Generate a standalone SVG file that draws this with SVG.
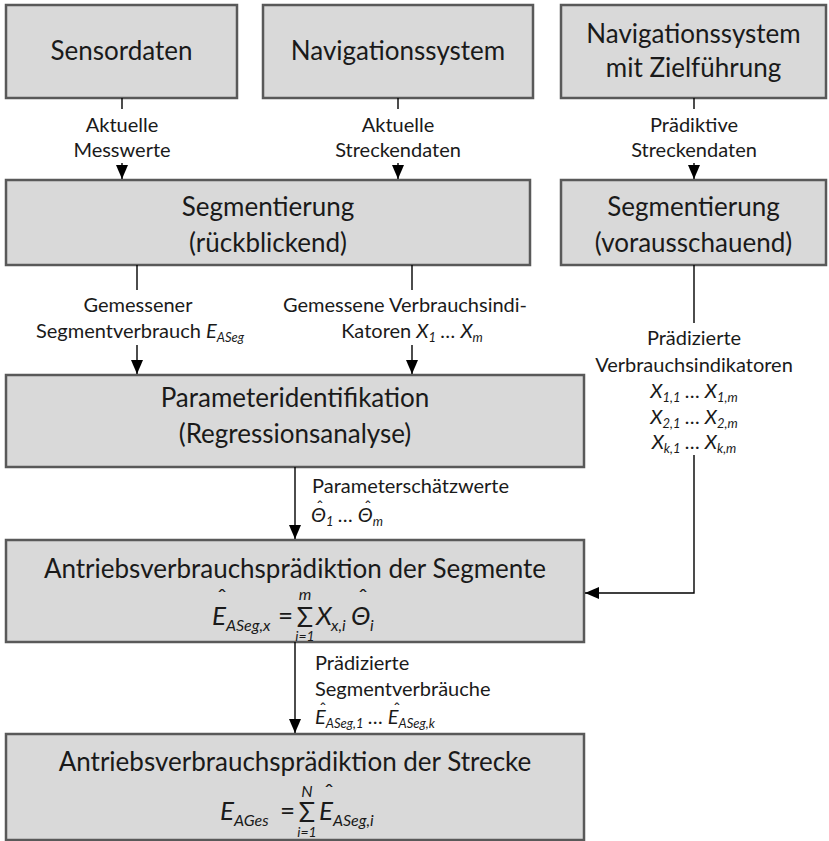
<svg xmlns="http://www.w3.org/2000/svg" width="829" height="841" viewBox="0 0 829 841">
  <defs>
    <marker id="arrow" markerUnits="userSpaceOnUse" markerWidth="14" markerHeight="12" refX="14" refY="6" orient="auto">
      <path d="M0,0 L14,6 L0,12 z" fill="#000"/>
    </marker>
    <style>
      .box { fill: #d9d9d9; stroke: #595959; stroke-width: 2.5; }
      .title { font-family: "Lato", "Carlito", "Liberation Sans", sans-serif; font-size: 26px; fill: #1a1a1a; text-anchor: middle; }
      .lbl { font-family: "Lato", "Carlito", "Liberation Sans", sans-serif; font-size: 20px; fill: #1a1a1a; }
      .mid { text-anchor: middle; }
      .it { font-style: italic; }
      .math { font-family: "Lato", "Carlito", "Liberation Sans", sans-serif; fill: #1a1a1a; font-style: italic; }
      .hat { font-family: "Lato", "Carlito", "Liberation Sans", sans-serif; fill: #1a1a1a; text-anchor: middle; }
      .conn { fill: none; stroke: #000; stroke-width: 1.4; }
    </style>
  </defs>

  <rect width="829" height="841" fill="#fff"/>

  <!-- source nodes -->
  <g id="sensordaten">
    <rect class="box" x="6" y="5" width="231" height="93"/>
    <text class="title" x="121.5" y="60">Sensordaten</text>
  </g>
  <g id="navigationssystem">
    <rect class="box" x="263" y="5" width="270" height="93"/>
    <text class="title" x="398" y="60">Navigationssystem</text>
  </g>
  <g id="navigation-zielfuehrung">
    <rect class="box" x="561" y="5" width="265" height="93"/>
    <text class="title" x="693.5" y="43">Navigationssystem</text>
    <text class="title" x="693.5" y="77">mit Zielführung</text>
  </g>

  <!-- segmentation -->
  <g id="segmentierung-rueck">
    <rect class="box" x="6" y="180" width="524" height="85"/>
    <text class="title" x="268" y="216">Segmentierung</text>
    <text class="title" x="268" y="252">(rückblickend)</text>
  </g>
  <g id="segmentierung-voraus">
    <rect class="box" x="561" y="180" width="265" height="85"/>
    <text class="title" x="693.5" y="216">Segmentierung</text>
    <text class="title" x="693.5" y="252">(vorausschauend)</text>
  </g>

  <!-- parameter identification -->
  <g id="parameteridentifikation">
    <rect class="box" x="6" y="375" width="578" height="92"/>
    <text class="title" x="295" y="407">Parameteridentifikation</text>
    <text class="title" x="295" y="443">(Regressionsanalyse)</text>
  </g>

  <!-- segment prediction: E_ASeg,x = sum X_x,i * theta_i -->
  <g id="praediktion-segmente">
    <rect class="box" x="6" y="540" width="578" height="102"/>
    <text class="title" x="295" y="578">Antriebsverbrauchsprädiktion der Segmente</text>
    <g class="math">
      <text x="212" y="625" font-size="26">E</text>
      <text x="226" y="631" font-size="16">ASeg,x</text>
      <text x="278" y="625" font-size="26" font-style="normal">=</text>
      <text x="305" y="600" font-size="16" text-anchor="middle">m</text>
      <text x="305" y="627" font-size="27" font-style="normal" text-anchor="middle">Σ</text>
      <text x="305" y="641" font-size="14" text-anchor="middle">i=1</text>
      <text x="316" y="625" font-size="26">X</text>
      <text x="331" y="631" font-size="16">x,i</text>
      <text x="351" y="625" font-size="26">Θ</text>
      <text x="370" y="631" font-size="16">i</text>
    </g>
    <text class="hat" x="222" y="606" font-size="24">ˆ</text>
    <text class="hat" x="363" y="606" font-size="24">ˆ</text>
  </g>

  <!-- route prediction: E_AGes = sum E_ASeg,i -->
  <g id="praediktion-strecke">
    <rect class="box" x="6" y="734" width="578" height="106"/>
    <text class="title" x="295" y="771">Antriebsverbrauchsprädiktion der Strecke</text>
    <g class="math">
      <text x="220" y="820" font-size="26">E</text>
      <text x="234" y="826" font-size="16">AGes</text>
      <text x="280" y="820" font-size="26" font-style="normal">=</text>
      <text x="307" y="797" font-size="16" text-anchor="middle">N</text>
      <text x="307" y="822" font-size="27" font-style="normal" text-anchor="middle">Σ</text>
      <text x="307" y="837" font-size="14" text-anchor="middle">i=1</text>
      <text x="319" y="820" font-size="26">E</text>
      <text x="333" y="826" font-size="16">ASeg,i</text>
    </g>
    <text class="hat" x="329" y="801" font-size="24">ˆ</text>
  </g>

  <!-- connectors -->
  <g id="connectors">
    <path class="conn" d="M122,98 V109"/>
    <path class="conn" d="M122,163 V179" marker-end="url(#arrow)"/>
    <path class="conn" d="M398,98 V109"/>
    <path class="conn" d="M398,163 V179" marker-end="url(#arrow)"/>
    <path class="conn" d="M694,98 V109"/>
    <path class="conn" d="M694,163 V179" marker-end="url(#arrow)"/>
    <path class="conn" d="M137,265 V290"/>
    <path class="conn" d="M137,345 V374" marker-end="url(#arrow)"/>
    <path class="conn" d="M412,265 V290"/>
    <path class="conn" d="M412,345 V374" marker-end="url(#arrow)"/>
    <path class="conn" d="M694,265 V323"/>
    <path class="conn" d="M694,455 V593 H585" marker-end="url(#arrow)"/>
    <path class="conn" d="M295,467 V539" marker-end="url(#arrow)"/>
    <path class="conn" d="M295,642 V733" marker-end="url(#arrow)"/>
  </g>

  <!-- connector labels -->
  <g id="connector-labels">
    <text class="lbl mid" x="122" y="132">Aktuelle</text>
    <text class="lbl mid" x="122" y="157">Messwerte</text>
    <text class="lbl mid" x="398" y="132">Aktuelle</text>
    <text class="lbl mid" x="398" y="157">Streckendaten</text>
    <text class="lbl mid" x="694" y="132">Prädiktive</text>
    <text class="lbl mid" x="694" y="157">Streckendaten</text>

    <text class="lbl mid" x="138" y="312">Gemessener</text>
    <text class="lbl mid" x="140" y="338">Segmentverbrauch <tspan class="it">E</tspan><tspan class="it" font-size="13" dy="4">ASeg</tspan></text>
    <text class="lbl mid" x="405" y="312">Gemessene Verbrauchsindi-</text>
    <text class="lbl mid" x="412" y="338">Katoren  <tspan class="it">X</tspan><tspan class="it" font-size="13" dy="4">1</tspan><tspan class="it" dy="-4"> … X</tspan><tspan class="it" font-size="13" dy="4">m</tspan></text>

    <text class="lbl mid" x="694" y="345">Prädizierte</text>
    <text class="lbl mid" x="694" y="372">Verbrauchsindikatoren</text>
    <text class="lbl mid it" x="694" y="398">X<tspan font-size="13" dy="4">1,1</tspan><tspan dy="-4"> … X</tspan><tspan font-size="13" dy="4">1,m</tspan></text>
    <text class="lbl mid it" x="694" y="424">X<tspan font-size="13" dy="4">2,1</tspan><tspan dy="-4"> … X</tspan><tspan font-size="13" dy="4">2,m</tspan></text>
    <text class="lbl mid it" x="694" y="449">X<tspan font-size="13" dy="4">k,1</tspan><tspan dy="-4"> … X</tspan><tspan font-size="13" dy="4">k,m</tspan></text>

    <text class="lbl" x="312" y="493">Parameterschätzwerte</text>
    <text class="lbl it" x="311" y="522">Θ<tspan font-size="13" dy="4">1</tspan><tspan dy="-4"> … Θ</tspan><tspan font-size="13" dy="4">m</tspan></text>
    <text class="hat" x="320" y="513" font-size="17">ˆ</text>
    <text class="hat" x="368" y="513" font-size="17">ˆ</text>

    <text class="lbl" x="315" y="670">Prädizierte</text>
    <text class="lbl" x="315" y="696">Segmentverbräuche</text>
    <text class="lbl it" x="315" y="724">E<tspan font-size="13" dy="4">ASeg,1</tspan><tspan dy="-4"> … E</tspan><tspan font-size="13" dy="4">ASeg,k</tspan></text>
    <text class="hat" x="323" y="715" font-size="17">ˆ</text>
    <text class="hat" x="397" y="715" font-size="17">ˆ</text>
  </g>
</svg>
